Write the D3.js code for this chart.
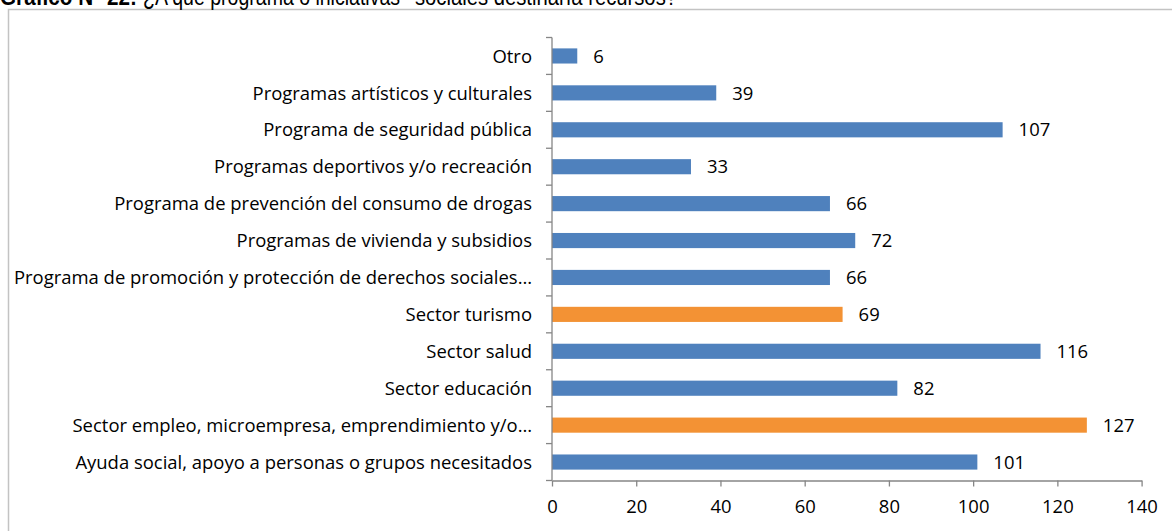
<!DOCTYPE html>
<html>
<head>
<meta charset="utf-8">
<script src="https://cdn.jsdelivr.net/npm/d3@7"></script>
<style>
  html, body { margin: 0; padding: 0; background: #fff; }
  svg { display: block; }
</style>
</head>
<body>
<svg id="chart" width="1172" height="531"></svg>
<script>
// Categories listed bottom to top as they appear on the axis
const categories = [
  "Ayuda social, apoyo a personas o grupos necesitados",
  "Sector empleo, microempresa, emprendimiento y/o…",
  "Sector educación",
  "Sector salud",
  "Sector turismo",
  "Programa de promoción y protección de derechos sociales…",
  "Programas de vivienda y subsidios",
  "Programa de prevención del consumo de drogas",
  "Programas deportivos y/o recreación",
  "Programa de seguridad pública",
  "Programas artísticos y culturales",
  "Otro"
];
const values = [101, 127, 82, 116, 69, 66, 72, 66, 33, 107, 39, 6];
const highlighted = ["Sector empleo, microempresa, emprendimiento y/o…", "Sector turismo"];
const xTicks = [0, 20, 40, 60, 80, 100, 120, 140];

const svg = d3.select("#chart");
const W = 1172, H = 531;
const margin = { top: 37.5, bottom: 50.5 };
const labelFont = "'Open Sans', sans-serif";

// Pick a label size so the longest label spans the intended width
const probe = svg.append("text")
  .attr("font-family", labelFont).attr("font-size", 16)
  .text(categories[0]);
const probeW = probe.node().getComputedTextLength();
probe.remove();
const fs = +(16 * 457 / probeW).toFixed(2);

// Chart frame
svg.append("path")
  .attr("d", `M8.5,${H} V9.5 H${W}`)
  .attr("fill", "none")
  .attr("stroke", "#c3c3c3")
  .attr("stroke-width", 1.5);

// Title (runs off the top edge)
const titleFont = "'Liberation Sans', Arial, sans-serif";
const title = svg.append("g")
  .attr("font-family", titleFont)
  .attr("font-size", 23)
  .attr("fill", "#000");
const titleParts = [
  { text: "Gráfico N° 22:", x: 0, len: 137, bold: true },
  { text: "¿A qué programa o iniciativas", x: 143, len: 257, bold: false },
  { text: "sociales destinaría recursos?", x: 415, len: 262, bold: false }
];
title.selectAll("text")
  .data(titleParts)
  .join("text")
  .attr("x", d => d.x).attr("y", 5)
  .attr("font-weight", d => d.bold ? "bold" : "normal")
  .attr("textLength", d => d.len)
  .attr("lengthAdjust", "spacingAndGlyphs")
  .text(d => d.text);

const x = d3.scaleLinear().domain([0, 140]).range([552, 1141.6]);
const y = d3.scaleBand()
  .domain(categories.slice().reverse())
  .range([margin.top, H - margin.bottom])
  .paddingInner(0.59)
  .paddingOuter(0.295);

const rows = categories.map((c, i) => ({ cat: c, val: values[i] }));

// Bars
svg.append("g").selectAll("rect")
  .data(rows)
  .join("rect")
  .attr("x", x(0))
  .attr("y", d => y(d.cat))
  .attr("width", d => x(d.val) - x(0))
  .attr("height", y.bandwidth())
  .attr("fill", d => highlighted.includes(d.cat) ? "#F39234" : "#4F81BD");

// Value labels
svg.append("g").selectAll("text")
  .data(rows)
  .join("text")
  .attr("x", d => x(d.val) + 16)
  .attr("y", d => y(d.cat) + y.bandwidth() / 2)
  .attr("dy", "0.36em")
  .attr("font-family", labelFont)
  .attr("font-size", fs)
  .attr("fill", "#000")
  .text(d => d.val);

// Y axis: line with outward ticks at band boundaries
const axisColor = "#868686";
const yAxisG = svg.append("g");
const y0 = margin.top, y1 = H - margin.bottom;
yAxisG.append("line")
  .attr("x1", x(0)).attr("x2", x(0))
  .attr("y1", y0).attr("y2", y1)
  .attr("stroke", axisColor).attr("stroke-width", 1.3);
const boundaries = d3.range(categories.length + 1).map(i => y0 + i * (y1 - y0) / categories.length);
yAxisG.selectAll("line.tick")
  .data(boundaries)
  .join("line")
  .attr("class", "tick")
  .attr("x1", x(0) - 6).attr("x2", x(0))
  .attr("y1", d => d).attr("y2", d => d)
  .attr("stroke", axisColor).attr("stroke-width", 1.3);

// Category labels
yAxisG.selectAll("text")
  .data(categories)
  .join("text")
  .attr("x", x(0) - 20)
  .attr("y", d => y(d) + y.bandwidth() / 2)
  .attr("dy", "0.36em")
  .attr("text-anchor", "end")
  .attr("font-family", labelFont)
  .attr("font-size", fs)
  .attr("fill", "#000")
  .text(d => d);

// X axis
const xAxis = d3.axisBottom(x).tickValues(xTicks).tickSize(6).tickSizeOuter(0).tickPadding(13);
const xg = svg.append("g")
  .attr("transform", `translate(0,${y1})`)
  .call(xAxis);
xg.select(".domain").attr("stroke", axisColor).attr("stroke-width", 1.3);
xg.selectAll(".tick line").attr("stroke", axisColor).attr("stroke-width", 1.3);
xg.selectAll(".tick text")
  .attr("font-family", labelFont)
  .attr("font-size", fs)
  .attr("fill", "#000");
</script>
</body>
</html>
